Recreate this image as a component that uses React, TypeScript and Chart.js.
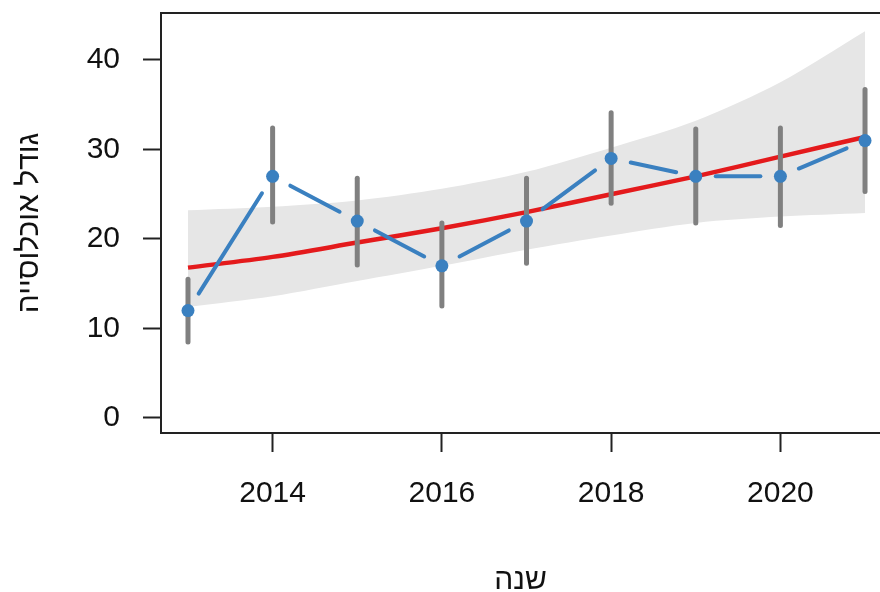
import React, { useEffect, useRef } from 'react';
import { Chart, registerables } from 'chart.js';

Chart.register(...registerables);

// ---- data ----
const years = [2013, 2014, 2015, 2016, 2017, 2018, 2019, 2020, 2021];
const means = [12, 27, 22, 17, 22, 29, 27, 27, 31];
const errLow = [8.5, 21.9, 17.1, 12.5, 17.3, 24.0, 21.8, 21.5, 25.3];
const errHigh = [15.5, 32.4, 26.8, 21.8, 26.8, 34.1, 32.3, 32.4, 36.7];
const fitValues = [16.8, 18.0, 19.6, 21.2, 23.0, 25.0, 27.0, 29.2, 31.4];
const bandUpper = [23.2, 23.6, 24.3, 25.6, 27.5, 30.2, 33.2, 37.5, 43.2];
const bandLower = [12.4, 13.6, 15.3, 17.0, 18.8, 20.4, 21.8, 22.5, 22.9];
const xTicks = [2014, 2016, 2018, 2020];
const yTicks = [0, 10, 20, 30, 40];
const xTitle = 'שנה';
const yTitle = 'גודל אוכלוסייה';

const BLUE = '#3a80c0';
const RED = '#e41a1c';
const GREY = '#808080';
const BAND = '#e6e6e6';
const AXIS = '#222222';
const FONT = "'Liberation Sans', Arial, sans-serif";

const pts = (vals: number[]) => years.map((yr, i) => ({ x: yr, y: vals[i] }));

const overlayPlugin = {
  id: 'overlay',
  beforeDatasetDraw(chart: any, args: any) {
    if (args.index !== 3) return;
    const { ctx, scales, chartArea } = chart;
    const xs = scales.x;
    const ys = scales.y;
    ctx.save();
    ctx.beginPath();
    ctx.rect(chartArea.left, chartArea.top, chartArea.right - chartArea.left, chartArea.bottom - chartArea.top);
    ctx.clip();
    // error bars
    ctx.strokeStyle = GREY;
    ctx.lineWidth = 5;
    ctx.lineCap = 'round';
    years.forEach((yr, i) => {
      const px = xs.getPixelForValue(yr);
      ctx.beginPath();
      ctx.moveTo(px, ys.getPixelForValue(errLow[i]));
      ctx.lineTo(px, ys.getPixelForValue(errHigh[i]));
      ctx.stroke();
    });
    // connecting segments with gaps around points
    const meta = chart.getDatasetMeta(3);
    ctx.strokeStyle = BLUE;
    ctx.lineWidth = 4;
    ctx.lineCap = 'round';
    const gap = 20;
    for (let i = 0; i < meta.data.length - 1; i++) {
      const a = meta.data[i];
      const b = meta.data[i + 1];
      const dx = b.x - a.x;
      const dy = b.y - a.y;
      const len = Math.sqrt(dx * dx + dy * dy);
      if (len <= gap * 2) continue;
      const ux = dx / len;
      const uy = dy / len;
      ctx.beginPath();
      ctx.moveTo(a.x + ux * gap, a.y + uy * gap);
      ctx.lineTo(b.x - ux * gap, b.y - uy * gap);
      ctx.stroke();
    }
    ctx.restore();
  },
  afterDraw(chart: any) {
    const { ctx, chartArea } = chart;
    ctx.save();
    ctx.strokeStyle = AXIS;
    ctx.lineWidth = 2;
    ctx.beginPath();
    ctx.moveTo(chartArea.left - 1, chartArea.top);
    ctx.lineTo(chartArea.right + 2, chartArea.top);
    ctx.stroke();
    ctx.restore();
  },
};

export default function App() {
  const ref = useRef<HTMLCanvasElement | null>(null);

  useEffect(() => {
    if (!ref.current) return;
    const chart = new Chart(ref.current, {
      type: 'line',
      data: {
        datasets: [
          {
            label: 'upper',
            data: pts(bandUpper),
            borderWidth: 0,
            pointRadius: 0,
            fill: false,
            tension: 0.3,
            order: 4,
          },
          {
            label: 'lower',
            data: pts(bandLower),
            borderWidth: 0,
            pointRadius: 0,
            fill: '-1',
            tension: 0.3,
            backgroundColor: BAND,
            order: 3,
          },
          {
            label: 'fit',
            data: pts(fitValues),
            borderColor: RED,
            borderWidth: 4.5,
            pointRadius: 0,
            fill: false,
            tension: 0.3,
            order: 2,
          },
          {
            label: 'means',
            data: pts(means),
            showLine: false,
            pointRadius: 6.5,
            pointBackgroundColor: BLUE,
            pointBorderWidth: 0,
            order: 1,
          },
        ] as any,
      },
      options: {
        animation: false,
        responsive: false,
        layout: { autoPadding: false, padding: { top: 13, left: 0, right: 0, bottom: 0 } },
        plugins: {
          legend: { display: false },
          tooltip: { enabled: false },
        },
        scales: {
          x: {
            type: 'linear',
            min: 2012.681,
            max: 2021.177,
            afterFit: (s: any) => {
              s.height = 159;
              s.paddingLeft = 0;
              s.paddingRight = 0;
            },
            afterBuildTicks: (s: any) => { s.ticks = xTicks.map((v) => ({ value: v })); },
            grid: { drawOnChartArea: false, drawTicks: true, tickLength: 19, tickColor: AXIS, tickWidth: 2 },
            border: { display: true, color: AXIS, width: 2 },
            ticks: {
              padding: 24,
              color: '#111',
              font: { family: FONT, size: 30 },
              callback: (v: any) => String(v),
              maxRotation: 0,
            },
            title: {
              display: true,
              text: xTitle,
              color: '#111',
              font: { family: FONT, size: 30 },
              padding: { top: 0, bottom: -7 },
            },
          },
          y: {
            type: 'linear',
            min: -1.676,
            max: 45.25,
            afterFit: (s: any) => {
              s.width = 161;
              s.paddingTop = 0;
              s.paddingBottom = 0;
            },
            afterBuildTicks: (s: any) => { s.ticks = yTicks.map((v) => ({ value: v })); },
            grid: { drawOnChartArea: false, drawTicks: true, tickLength: 18, tickColor: AXIS, tickWidth: 2 },
            border: { display: true, color: AXIS, width: 2 },
            ticks: {
              padding: 23,
              color: '#111',
              font: { family: FONT, size: 30 },
              callback: (v: any) => String(v),
            },
            title: {
              display: true,
              text: yTitle,
              color: '#111',
              font: { family: FONT, size: 30 },
              padding: { top: 12, bottom: 0 },
            },
          },
        },
      } as any,
      plugins: [overlayPlugin],
    });
    return () => chart.destroy();
  }, []);

  return (
    <div style={{ position: 'absolute', left: 0, top: 0, width: 880, height: 592, background: '#fff' }}>
      <canvas ref={ref} width={880} height={592} style={{ display: 'block', width: 880, height: 592 }} />
    </div>
  );
}
